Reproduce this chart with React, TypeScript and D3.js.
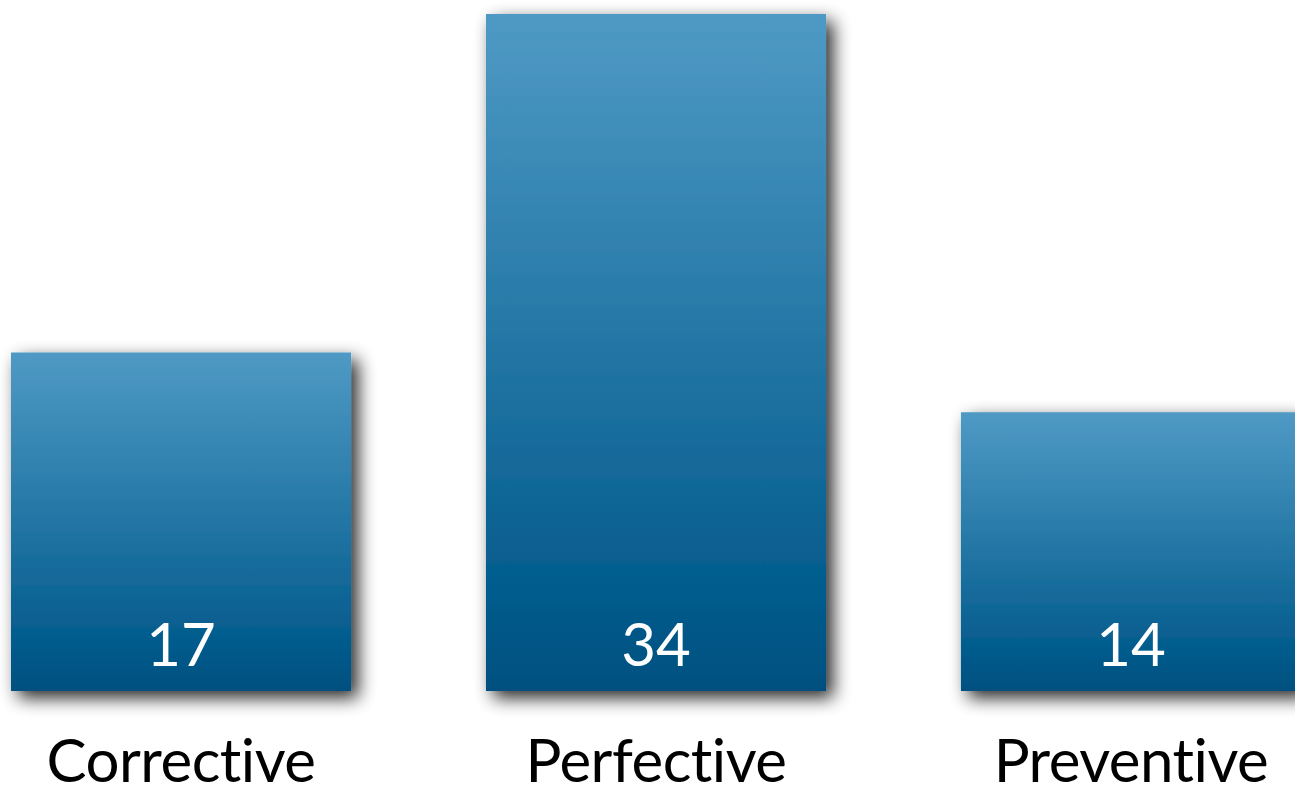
import React from "react";
import * as d3 from "d3";

const categories = ["Corrective", "Perfective", "Preventive"];
const counts = [17, 34, 14];

const W = 1295;
const H = 789;
const baseY = 691;

export default function App() {
  const x = d3
    .scaleBand<string>()
    .domain(categories)
    .range([11, 1301])
    .paddingInner(0.284)
    .paddingOuter(0);
  const y = d3.scaleLinear().domain([0, 34]).range([baseY, 14]);

  const font = "'Gill Sans', 'Gill Sans MT', Lato, 'Open Sans', sans-serif";

  return (
    <svg
      width={W}
      height={H}
      style={{ position: "absolute", left: 0, top: 0, background: "#fff" }}
    >
      <defs>
        <linearGradient id="barGrad" x1="0" y1="0" x2="0" y2="1">
          <stop offset="0%" stopColor="#4f9ac5" />
          <stop offset="85%" stopColor="#035c8d" />
          <stop offset="100%" stopColor="#02507f" />
        </linearGradient>
        <filter id="shadow" x="-20%" y="-20%" width="150%" height="150%">
          <feGaussianBlur in="SourceAlpha" stdDeviation="9" />
          <feOffset dx="7" dy="7" result="blur" />
          <feComponentTransfer>
            <feFuncA type="linear" slope="0.85" />
          </feComponentTransfer>
          <feMerge>
            <feMergeNode />
            <feMergeNode in="SourceGraphic" />
          </feMerge>
        </filter>
      </defs>
      {categories.map((c, i) => {
        const bx = x(c)!;
        const bw = x.bandwidth();
        const by = y(counts[i]);
        return (
          <g key={c}>
            <rect
              x={bx}
              y={by}
              width={bw}
              height={baseY - by}
              fill="url(#barGrad)"
              filter="url(#shadow)"
            />
            <text
              x={bx + bw / 2}
              y={666}
              textAnchor="middle"
              fill="#fff"
              fontFamily={font}
              fontSize={60}
            >
              {counts[i]}
            </text>
            <text
              x={bx + bw / 2}
              y={782}
              textAnchor="middle"
              fill="#000"
              fontFamily={font}
              fontSize={60}
              letterSpacing={-0.5}
              style={{ fontVariantLigatures: "none" }}
            >
              {c}
            </text>
          </g>
        );
      })}
    </svg>
  );
}
